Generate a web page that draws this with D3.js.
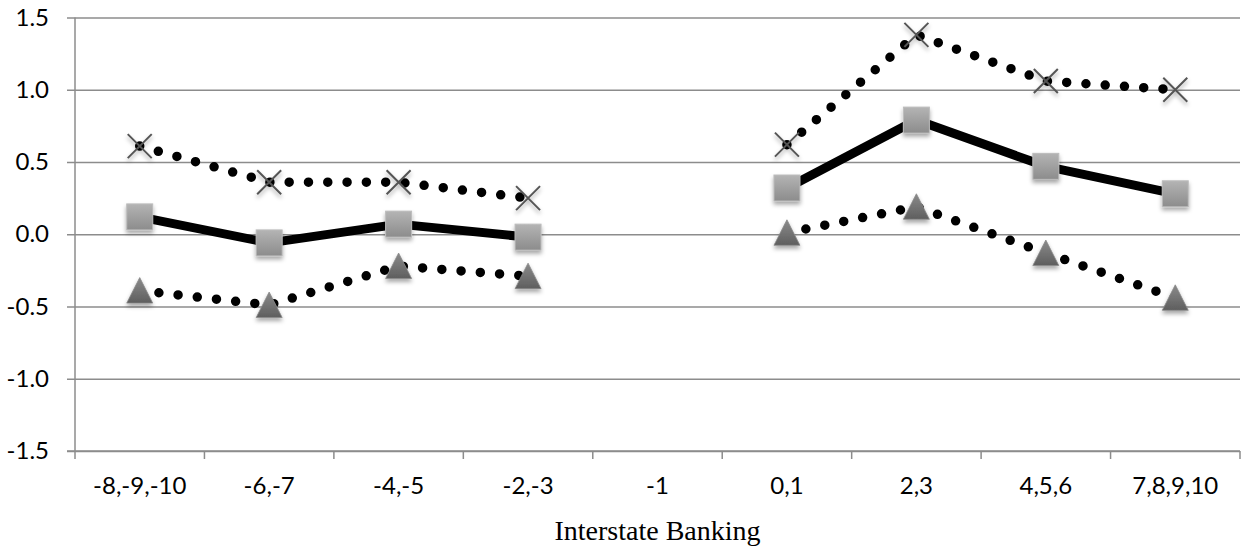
<!DOCTYPE html>
<html>
<head>
<meta charset="utf-8">
<script src="https://cdn.jsdelivr.net/npm/d3@7"></script>
<style>
  html, body { margin: 0; padding: 0; background: #ffffff; }
  svg { display: block; }
</style>
</head>
<body>
<svg id="chart" width="1242" height="548"></svg>
<script>
// Interstate banking deregulation index groups
const categories = ["-8,-9,-10", "-6,-7", "-4,-5", "-2,-3", "-1", "0,1", "2,3", "4,5,6", "7,8,9,10"];

// Upper bound, point estimate and lower bound (null = no estimate for that group)
const upperValues = [0.61, 0.36, 0.36, 0.25, null, 0.62, 1.38, 1.06, 1.00];
const estimateValues = [0.12, -0.06, 0.07, -0.02, null, 0.32, 0.79, 0.47, 0.28];
const lowerValues = [-0.39, -0.49, -0.22, -0.29, null, 0.01, 0.19, -0.13, -0.44];

const yTicks = [-1.5, -1.0, -0.5, 0.0, 0.5, 1.0, 1.5];
const xTitle = "Interstate Banking";

const svg = d3.select("#chart");
const plotLeft = 75, plotRight = 1240, plotTop = 17.5, plotBottom = 451;

const x = d3.scaleBand().domain(categories).range([plotLeft, plotRight]).padding(0);
const y = d3.scaleLinear().domain([-1.5, 1.5]).range([plotBottom, plotTop]);
const cx = c => x(c) + x.bandwidth() / 2;

const axisColor = "#8c8c8c";
const labelFont = "Lato, 'Open Sans', sans-serif";
const labelSize = 24;
// one decimal, plain hyphen for negatives
const fmt = v => d3.format(".1f")(v).replace("\u2212", "-");

// Definitions: gradients and a soft drop shadow for the markers
const defs = svg.append("defs");
const sq = defs.append("linearGradient").attr("id", "sqGrad").attr("x1", 0).attr("y1", 0).attr("x2", 0).attr("y2", 1);
sq.append("stop").attr("offset", "0%").attr("stop-color", "#b4b4b4");
sq.append("stop").attr("offset", "100%").attr("stop-color", "#8c8c8c");
const tri = defs.append("linearGradient").attr("id", "triGrad").attr("x1", 0).attr("y1", 0).attr("x2", 0).attr("y2", 1);
tri.append("stop").attr("offset", "0%").attr("stop-color", "#8a8a8a");
tri.append("stop").attr("offset", "100%").attr("stop-color", "#5e5e5e");
const shadow = defs.append("filter").attr("id", "shadow").attr("x", "-50%").attr("y", "-50%").attr("width", "200%").attr("height", "200%");
shadow.append("feDropShadow").attr("dx", 0).attr("dy", 3).attr("stdDeviation", 2.2)
  .attr("flood-color", "#000").attr("flood-opacity", 0.35);

// Horizontal gridlines with short outer ticks on the left
const yAxis = d3.axisLeft(y).tickValues(yTicks).tickFormat(fmt)
  .tickSize(-(plotRight - plotLeft)).tickSizeOuter(0);
const gy = svg.append("g").attr("transform", `translate(${plotLeft},0)`).call(yAxis);
gy.select(".domain").remove();
gy.selectAll(".tick line").attr("x1", -8).attr("stroke", axisColor).attr("stroke-width", 1.5);
gy.selectAll(".tick text").attr("font-family", labelFont).attr("font-size", labelSize).attr("fill", "#000")
  .attr("x", -26);

// Vertical axis line
svg.append("line").attr("x1", plotLeft).attr("x2", plotLeft).attr("y1", plotTop).attr("y2", plotBottom)
  .attr("stroke", axisColor).attr("stroke-width", 1.5);

// Category axis: labels at band centres, ticks at band boundaries
const xAxis = d3.axisBottom(x).tickSize(0).tickPadding(26);
const gx = svg.append("g").attr("transform", `translate(0,${plotBottom})`).call(xAxis);
gx.select(".domain").remove();
gx.selectAll(".tick text").attr("font-family", labelFont).attr("font-size", labelSize).attr("fill", "#000");

const bounds = categories.map(c => x(c)).concat([plotRight]);
svg.append("line").attr("x1", plotLeft - 8).attr("x2", plotRight).attr("y1", plotBottom).attr("y2", plotBottom)
  .attr("stroke", axisColor).attr("stroke-width", 1.5);
svg.append("g").selectAll("line").data(bounds).join("line")
  .attr("x1", d => d).attr("x2", d => d).attr("y1", plotBottom).attr("y2", plotBottom + 8)
  .attr("stroke", axisColor).attr("stroke-width", 1.5);

// Axis title
svg.append("text").attr("x", (plotLeft + plotRight) / 2).attr("y", 540).attr("text-anchor", "middle")
  .attr("font-family", "'Liberation Serif', 'Times New Roman', serif").attr("font-size", 28)
  .attr("fill", "#000").text(xTitle);

// Series lines
const toPoints = vals => categories.map((c, i) => ({ c, v: vals[i] }));
const line = d3.line().defined(d => d.v !== null).x(d => cx(d.c)).y(d => y(d.v));

[upperValues, lowerValues].forEach(vals => {
  svg.append("path").datum(toPoints(vals)).attr("d", line)
    .attr("fill", "none").attr("stroke", "#000").attr("stroke-width", 9.5)
    .attr("stroke-linecap", "round").attr("stroke-dasharray", "0 19.3");
});
svg.append("path").datum(toPoints(estimateValues)).attr("d", line)
  .attr("fill", "none").attr("stroke", "#000").attr("stroke-width", 9)
  .attr("stroke-linejoin", "round");

// Markers
const defined = vals => toPoints(vals).filter(d => d.v !== null);

// Squares for the point estimate
svg.append("g").selectAll("rect").data(defined(estimateValues)).join("rect")
  .attr("x", d => cx(d.c) - 13).attr("y", d => y(d.v) - 13)
  .attr("width", 26).attr("height", 26)
  .attr("fill", "url(#sqGrad)").attr("stroke", "#bdbdbd").attr("stroke-width", 1)
  .attr("filter", "url(#shadow)");

// Triangles for the lower bound
svg.append("g").selectAll("path").data(defined(lowerValues)).join("path")
  .attr("d", d => {
    const px = cx(d.c), py = y(d.v);
    return `M${px},${py - 13}L${px + 13},${py + 12.5}L${px - 13},${py + 12.5}Z`;
  })
  .attr("fill", "url(#triGrad)").attr("stroke", "#8a8a8a").attr("stroke-width", 0.8)
  .attr("filter", "url(#shadow)");

// Crosses for the upper bound
svg.append("g").selectAll("path").data(defined(upperValues)).join("path")
  .attr("d", d => {
    const px = cx(d.c), py = y(d.v), r = 12;
    return `M${px - r},${py - r}L${px + r},${py + r}M${px + r},${py - r}L${px - r},${py + r}`;
  })
  .attr("fill", "none").attr("stroke", "#555").attr("stroke-width", 2)
  .attr("filter", "url(#shadow)");
</script>
</body>
</html>
